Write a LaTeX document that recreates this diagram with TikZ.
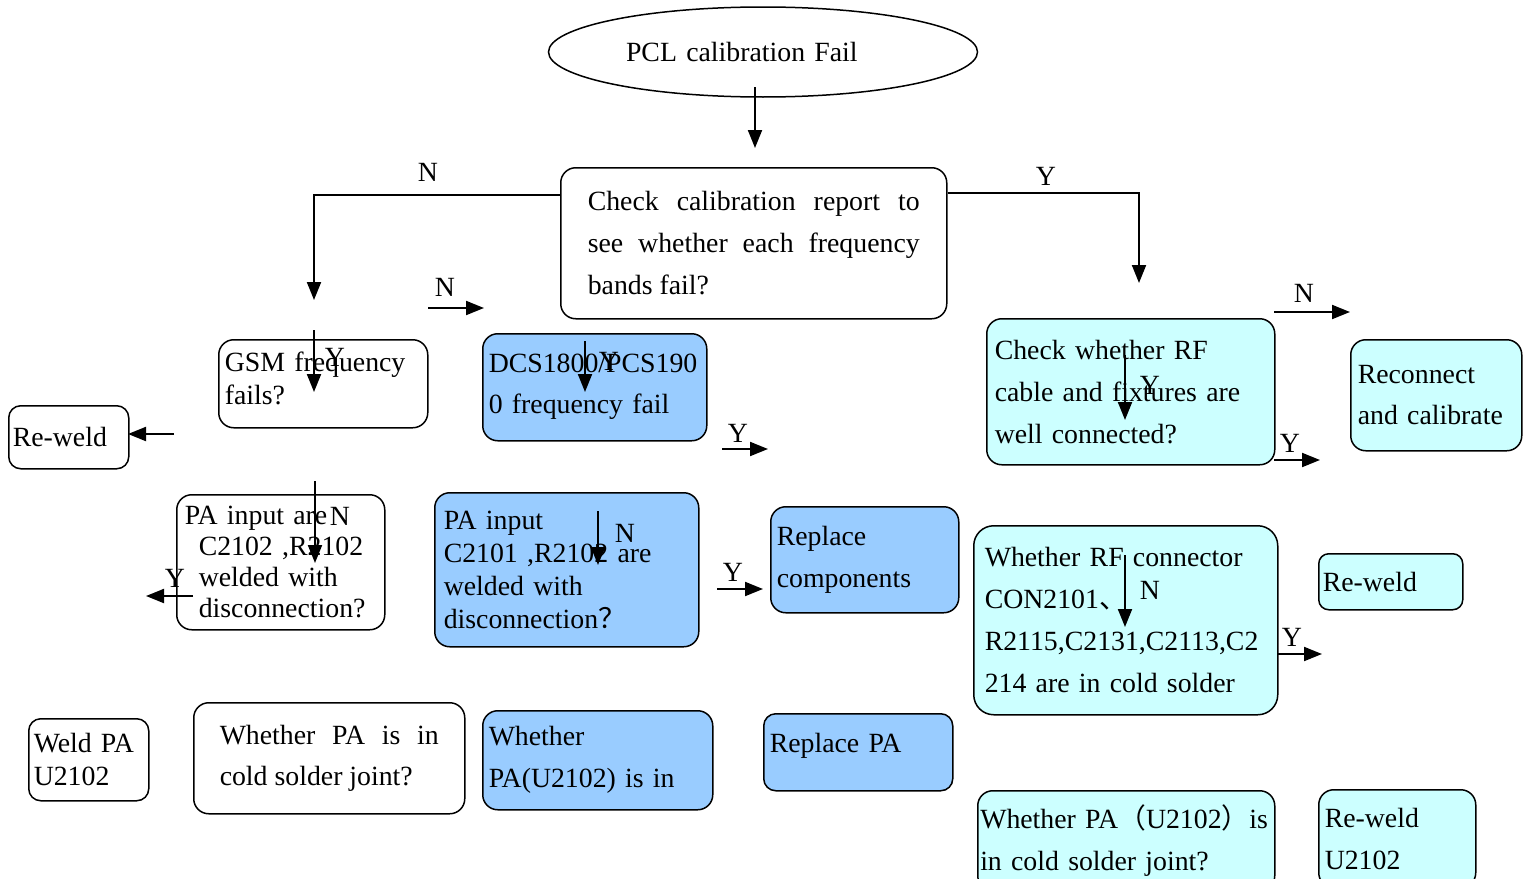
\documentclass[tikz,border=0pt]{standalone}
\usepackage{fontspec}
\setmainfont{Liberation Serif}
\newfontfamily\cjk{Noto Sans CJK SC}
\usepackage{xcolor}
\usetikzlibrary{shapes.geometric, arrows.meta}

\definecolor{paleblue}{HTML}{99CCFF}
\definecolor{palecyan}{HTML}{CCFFFF}

\tikzset{
  box/.style={draw, rounded corners=15pt, line width=1.5pt, anchor=north west,
    align=left, inner ysep=0pt},
  flow/.style={line width=2pt, -{Triangle[length=18pt,width=14pt]}},
  lbl/.style={inner sep=0pt},
}

\begin{document}
\begin{tikzpicture}[x=1pt, y=-1pt, every node/.style={font=\fontsize{27.8}{42}\selectfont}]
   \useasboundingbox (0,0) rectangle (1531,878);

   % start
   \node[draw, ellipse, line width=1.5pt, minimum width=429pt, minimum height=90pt,
     inner sep=0pt, text width=274pt, align=left] (start) at (763,52) {PCL calibration Fail};

   \node[box, align=justify, minimum width=386pt, minimum height=151pt, inner xsep=27pt,
     text width=332pt] (chk) at (560,167)
     {Check calibration report to\linebreak see whether each frequency\linebreak bands fail?};

   % left branch
   \node[box, font=\fontsize{27.8}{33}\selectfont, minimum width=209pt, minimum height=88pt,
     inner xsep=6pt, text width=197pt, text depth=44pt] (gsm) at (218,339) {GSM frequency\\fails?};
   \node[box, rounded corners=12pt, minimum width=120pt, minimum height=63pt,
     inner xsep=4pt, text width=112pt] (rweldA) at (8,405) {Re-weld};
   \node[box, font=\fontsize{27.8}{31}\selectfont, minimum width=208pt, minimum height=135pt,
     inner xsep=8pt, text width=192pt] (painA) at (176,494)
     {PA input are\\\hspace*{14pt}C2102 ,R2102\\\hspace*{14pt}welded with\\\hspace*{14pt}disconnection?};
   \node[box, rounded corners=12pt, font=\fontsize{27.8}{33}\selectfont, minimum width=120pt,
     minimum height=82pt, inner xsep=5pt, text width=110pt] (weld) at (28,718) {Weld PA\\U2102};
   \node[box, align=justify, font=\fontsize{27.8}{41}\selectfont, minimum width=271pt,
     minimum height=111pt, inner xsep=26pt, text width=219pt] (coldA) at (193,702)
     {Whether PA is in\linebreak cold solder joint?};

   % middle branch
   \node[box, fill=paleblue, font=\fontsize{27.8}{41}\selectfont, minimum width=224pt,
     minimum height=107pt, inner xsep=6pt, text width=212pt] (dcs) at (482,333)
     {DCS1800/PCS190\\0 frequency fail};
   \node[box, fill=paleblue, font=\fontsize{27.8}{33}\selectfont, minimum width=264pt,
     minimum height=154pt, inner xsep=9pt, text width=246pt] (painB) at (434,492)
     {PA input\\C2101 ,R2102 are\\welded with\\disconnection{\cjk ？}};
   \node[box, fill=paleblue, minimum width=188pt, minimum height=106pt, inner xsep=6pt,
     text width=176pt] (repc) at (770,506) {Replace\\components};
   \node[box, fill=paleblue, minimum width=230pt, minimum height=99pt, inner xsep=6pt,
     text width=218pt] (coldB) at (482,710) {Whether\\PA(U2102) is in};
   \node[box, fill=paleblue, rounded corners=12pt, minimum width=189pt, minimum height=77pt,
     inner xsep=6pt, text width=177pt, text depth=18pt] (reppa) at (763,713) {Replace PA};

   % right branch
   \node[box, fill=palecyan, minimum width=288pt, minimum height=146pt, inner xsep=8pt,
     text width=272pt] (rf) at (986,318)
     {Check whether RF\\cable and fixtures are\\well connected?};
   \node[box, fill=palecyan, font=\fontsize{27.8}{41}\selectfont, minimum width=171pt,
     minimum height=111pt, inner xsep=7pt, text width=157pt] (recon) at (1350,339)
     {Reconnect\\and calibrate};
   \node[box, fill=palecyan, rounded corners=20pt, minimum width=304pt, minimum height=189pt,
     inner xsep=11pt, text width=282pt] (rfcon) at (973,525)
     {Whether RF connector\\CON2101{\cjk 、}\\R2115,C2131,C2113,C2\\214 are in cold solder};
   \node[box, fill=palecyan, rounded corners=10pt, minimum width=144pt, minimum height=56pt,
     inner xsep=4pt, text width=136pt] (rweldB) at (1318,553) {Re-weld};
   \node[box, fill=palecyan, minimum width=297pt, minimum height=100pt, inner xsep=2.5pt,
     text width=292pt] (coldC) at (977,790)
     {Whether PA{\cjk （}U2102{\cjk ）}is\\in cold solder joint?};
   \node[box, fill=palecyan, minimum width=157pt, minimum height=98pt, inner xsep=6pt,
     text width=145pt] (rweldC) at (1318,789) {Re-weld\\U2102};

   % arrow ends
   \coordinate (s0) at (755,87);   \coordinate (e0) at (755,148);
   \coordinate (nTurn) at (314,195); \coordinate (nEnd) at (314,300);
   \coordinate (yTurn) at (1139,193); \coordinate (yEnd) at (1139,283);
   \coordinate (s1) at (428,308);  \coordinate (e1) at (484,308);
   \coordinate (s2) at (314,330);  \coordinate (e2) at (314,392);
   \coordinate (s3) at (174,434);  \coordinate (e3) at (128,434);
   \coordinate (s4) at (585,341);  \coordinate (e4) at (585,392);
   \coordinate (s5) at (722,449);  \coordinate (e5) at (768,449);
   \coordinate (s6) at (1125,355); \coordinate (e6) at (1125,420);
   \coordinate (s7) at (1274,312); \coordinate (e7) at (1350,312);
   \coordinate (s8) at (1274,460); \coordinate (e8) at (1320,460);
   \coordinate (s9) at (315,481);  \coordinate (e9) at (315,563);
   \coordinate (s10) at (193,596); \coordinate (e10) at (146,596);
   \coordinate (s11) at (598,511); \coordinate (e11) at (598,565);
   \coordinate (s12) at (717,589); \coordinate (e12) at (763,589);
   \coordinate (s13) at (1125,555); \coordinate (e13) at (1125,627);
   \coordinate (s14) at (1277,654); \coordinate (e14) at (1322,654);

   \draw[flow] (s0) -- (e0);
   \draw[flow] (chk.west |- nTurn) -- (nTurn) -- (nEnd);
   \draw[flow] (chk.east |- yTurn) -- (yTurn) -- (yEnd);
   \foreach \i in {1,...,14}
     \draw[flow] (s\i) -- (e\i);

   % Y / N labels
   \node[lbl] (lN0) at (428,172) {N};
   \node[lbl] (lY0) at (1046,176) {Y};
   \node[lbl] (lN1) at (445,287) {N};
   \node[lbl] (lY2) at (335,357) {Y};
   \node[lbl] (lY4) at (609,361) {Y};
   \node[lbl] (lY5) at (738,433) {Y};
   \node[lbl] (lY6) at (1150,385) {Y};
   \node[lbl] (lN7) at (1304,293) {N};
   \node[lbl] (lY8) at (1290,443) {Y};
   \node[lbl] (lN9) at (340,516) {N};
   \node[lbl] (lY10) at (175,578) {Y};
   \node[lbl] (lN11) at (625,533) {N};
   \node[lbl] (lY12) at (733,572) {Y};
   \node[lbl] (lN13) at (1150,590) {N};
   \node[lbl] (lY14) at (1292,637) {Y};
\end{tikzpicture}
\end{document}
